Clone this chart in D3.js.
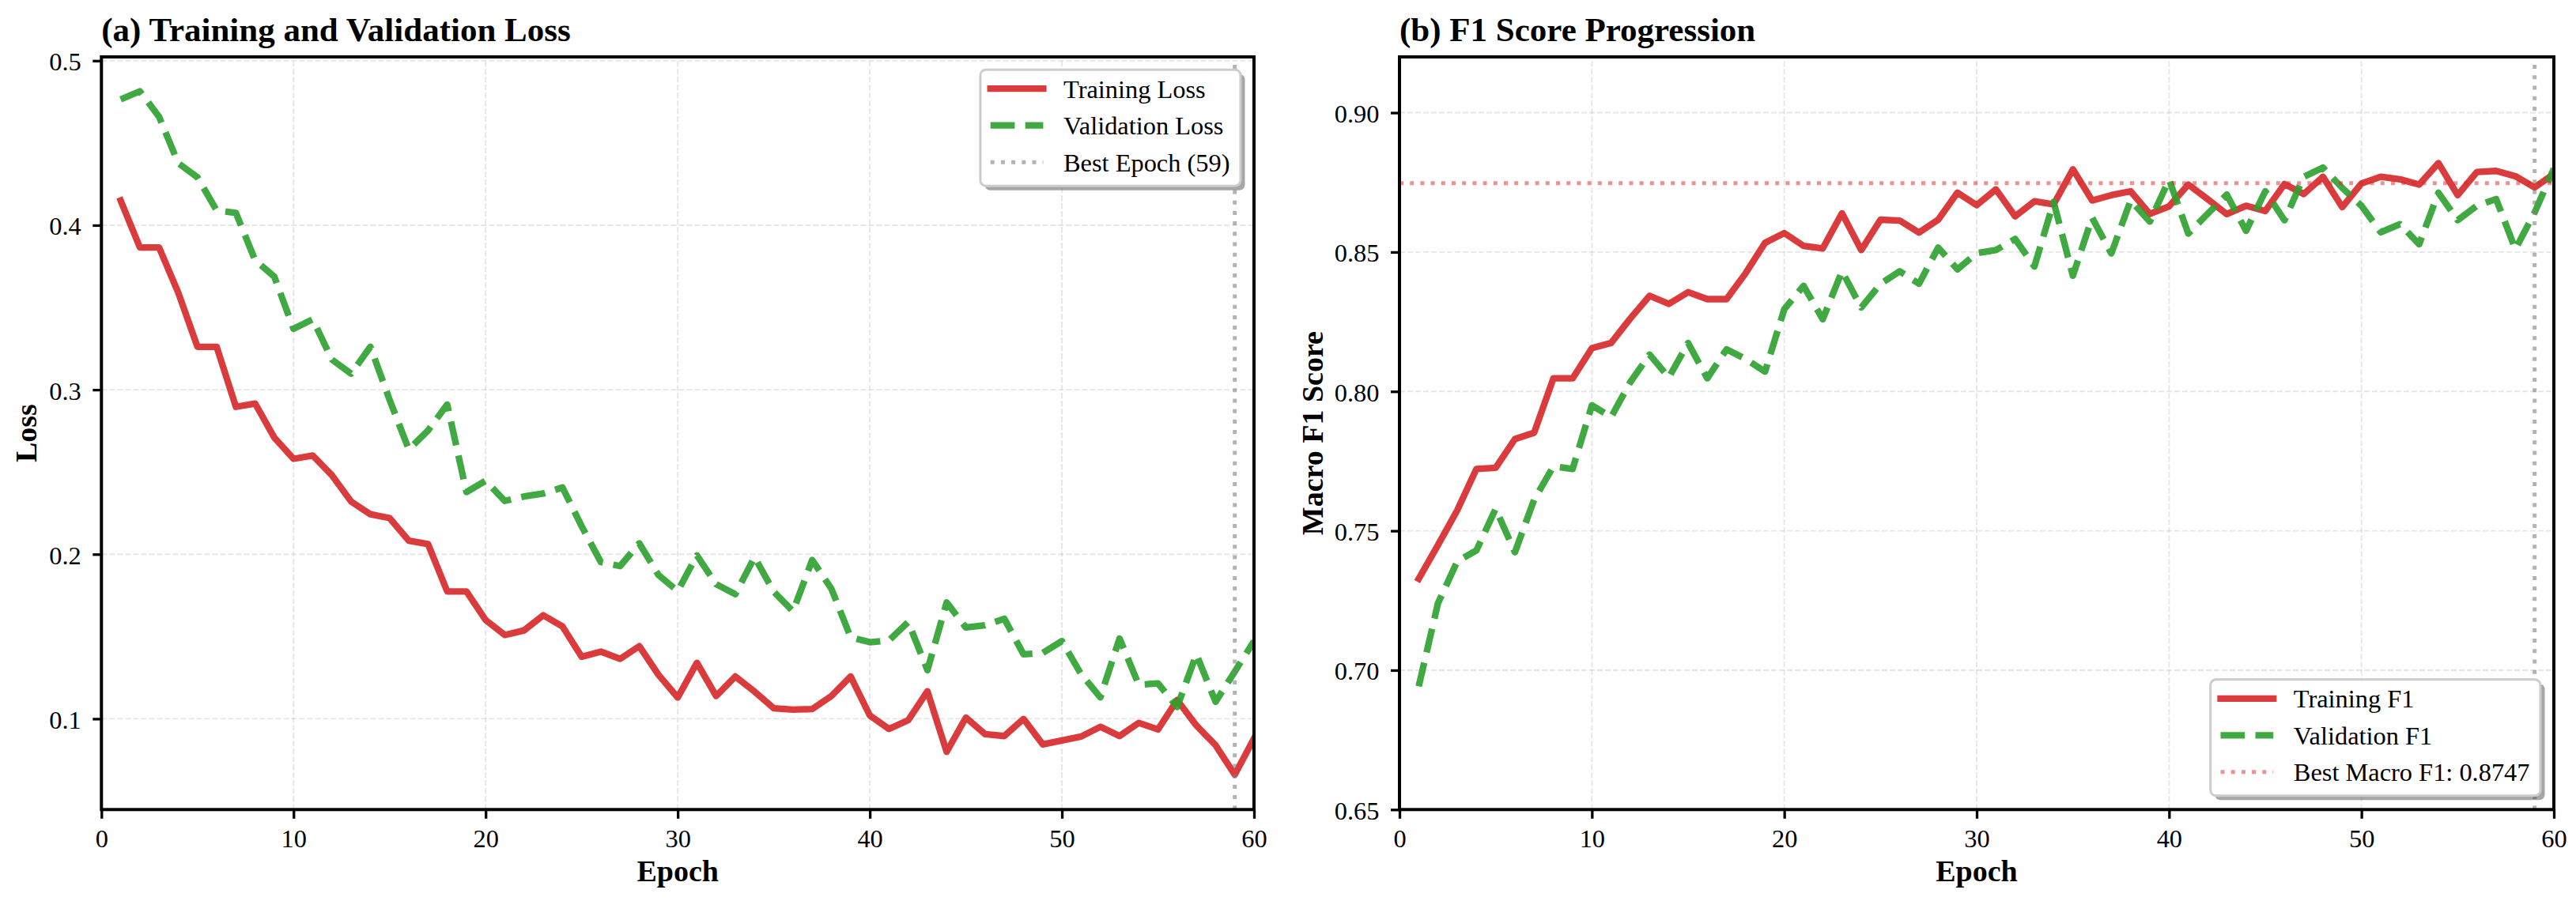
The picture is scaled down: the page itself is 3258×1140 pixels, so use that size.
<!DOCTYPE html>
<html><head><meta charset="utf-8">
<script src="https://cdn.jsdelivr.net/npm/d3@7"></script>
<style>
body{margin:0;background:#fff}
svg{display:block}
text{font-family:"Liberation Serif","Times New Roman",Times,serif}
</style>
</head><body>
<svg id="c" width="3258" height="1140"></svg>
<script>
// ---------------- data ----------------
const epochs = d3.range(1, 61);
const trainLoss = [0.415, 0.3865, 0.3865, 0.359, 0.326, 0.326, 0.2896, 0.2916, 0.2709, 0.258,
  0.26, 0.248, 0.232, 0.2243, 0.222, 0.2082, 0.2062, 0.1774, 0.1774, 0.160,
  0.1509, 0.1537, 0.1629, 0.1561, 0.1377, 0.1408, 0.1364, 0.1441, 0.1267, 0.1129,
  0.134, 0.1138, 0.1257, 0.1165, 0.1064, 0.1055, 0.1059, 0.1138, 0.1257, 0.102,
  0.0938, 0.0991, 0.1167, 0.0799, 0.1007, 0.0906, 0.0895, 0.0999, 0.0844, 0.0868,
  0.0892, 0.0951, 0.0895, 0.0975, 0.0935, 0.1114, 0.0959, 0.0839, 0.066, 0.088];
const valLoss = [0.4765, 0.4814, 0.4659, 0.4377, 0.4291, 0.4089, 0.4075, 0.3787, 0.3687, 0.337,
  0.3428, 0.3183, 0.3097, 0.3261, 0.2939, 0.2637, 0.2752, 0.291, 0.2378, 0.2447,
  0.2324, 0.2351, 0.2369, 0.2406, 0.217, 0.1952, 0.1928, 0.2066, 0.1873, 0.1776,
  0.1993, 0.1818, 0.1757, 0.1983, 0.1772, 0.1653, 0.1965, 0.179, 0.1496, 0.1465,
  0.1476, 0.1588, 0.1295, 0.1707, 0.1555, 0.1568, 0.1608, 0.1392, 0.14, 0.1472,
  0.1271, 0.113, 0.1488, 0.1207, 0.1215, 0.1071, 0.1392, 0.1103, 0.1287, 0.1472];
const trainF1 = [0.7328, 0.7449, 0.7573, 0.7722, 0.7726, 0.7829, 0.7852, 0.8047, 0.8047, 0.8155,
  0.8174, 0.8262, 0.8343, 0.8314, 0.8356, 0.8331, 0.8331, 0.8425, 0.8533, 0.8568,
  0.8522, 0.8513, 0.8639, 0.8507, 0.8616, 0.8613, 0.857, 0.8616, 0.8713, 0.8668,
  0.8725, 0.8628, 0.8682, 0.8671, 0.8797, 0.8685, 0.8704, 0.8718, 0.8637, 0.8664,
  0.8742, 0.869, 0.8636, 0.8666, 0.8647, 0.8744, 0.8708, 0.877, 0.8661, 0.8746,
  0.877, 0.8761, 0.8742, 0.8819, 0.8704, 0.8787, 0.8791, 0.8772, 0.8732, 0.878];
const valF1 = [0.6942, 0.724, 0.739, 0.743, 0.7579, 0.7423, 0.7612, 0.7731, 0.7722, 0.795,
  0.7908, 0.8034, 0.8132, 0.805, 0.8174, 0.8047, 0.8151, 0.8116, 0.8071, 0.8295,
  0.8379, 0.8259, 0.8431, 0.8301, 0.8386, 0.8431, 0.8386, 0.8516, 0.8438, 0.8496,
  0.8507, 0.8547, 0.8448, 0.868, 0.8415, 0.8623, 0.8495, 0.8685, 0.8609, 0.876,
  0.8566, 0.8637, 0.8706, 0.8576, 0.8718, 0.8614, 0.877, 0.8803, 0.873, 0.8666,
  0.8571, 0.86, 0.8528, 0.8713, 0.8614, 0.8666, 0.869, 0.851, 0.8642, 0.8799];
const xTicks = [0, 10, 20, 30, 40, 50, 60];
const lossTicks = [0.1, 0.2, 0.3, 0.4, 0.5];
const f1Ticks = [0.65, 0.70, 0.75, 0.80, 0.85, 0.90];
const bestEpoch = 59;
const bestF1 = 0.8747;
const titles = ["(a) Training and Validation Loss", "(b) F1 Score Progression"];
const yLabels = ["Loss", "Macro F1 Score"];
const xLabel = "Epoch";

// ---------------- styles ----------------
const W = 3258, H = 1140;
const RED = "#d62728", GREEN = "#2ca02c", GRAY = "#808080";
const LW = 8.3;
const STY = {
  solid: {stroke: RED, op: 0.9, w: LW, dash: null, cap: "square"},
  dashed: {stroke: GREEN, op: 0.9, w: LW, dash: "30.7,13.3", cap: "butt"},
  grayDot: {stroke: GRAY, op: 0.6, w: 5, dash: "5,8.2", cap: "butt"},
  redDot: {stroke: RED, op: 0.5, w: 5, dash: "5,8.2", cap: "butt"}
};
function applyStyle(sel, s) {
  sel.attr("fill", "none").attr("stroke", s.stroke).attr("stroke-opacity", s.op)
     .attr("stroke-width", s.w).attr("stroke-linecap", s.cap).attr("stroke-linejoin", "round");
  if (s.dash) sel.attr("stroke-dasharray", s.dash);
  return sel;
}

const svg = d3.select("#c");
svg.append("rect").attr("width", W).attr("height", H).attr("fill", "#fff");

const panels = [
  {x0: 128.3, x1: 1586, y0: 72, y1: 1024.3, ydom: [0.0448, 0.5023], yticks: lossTicks,
   yfmt: d3.format(".1f"), ylabel: yLabels[0], ylabelX: 46, title: titles[0],
   series: [{v: trainLoss, s: "solid", label: "Training Loss"}, {v: valLoss, s: "dashed", label: "Validation Loss"}],
   hline: null, legendLoc: "upper",
   legend: [{s: "solid", label: "Training Loss"}, {s: "dashed", label: "Validation Loss"}, {s: "grayDot", label: `Best Epoch (${bestEpoch})`}]},
  {x0: 1770, x1: 3230, y0: 72, y1: 1024.3, ydom: [0.65, 0.92], yticks: f1Ticks,
   yfmt: d3.format(".2f"), ylabel: yLabels[1], ylabelX: 1673, title: titles[1],
   series: [{v: trainF1, s: "solid", label: "Training F1"}, {v: valF1, s: "dashed", label: "Validation F1"}],
   hline: bestF1, legendLoc: "lower",
   legend: [{s: "solid", label: "Training F1"}, {s: "dashed", label: "Validation F1"}, {s: "redDot", label: `Best Macro F1: ${bestF1.toFixed(4)}`}]}
];

panels.forEach((p, i) => {
  const x = d3.scaleLinear().domain([0, 60]).range([p.x0, p.x1]);
  const y = d3.scaleLinear().domain(p.ydom).range([p.y1, p.y0]);
  const g = svg.append("g");

  // clip
  const cid = "clip" + i;
  svg.append("clipPath").attr("id", cid).append("rect")
    .attr("x", p.x0).attr("y", p.y0).attr("width", p.x1 - p.x0).attr("height", p.y1 - p.y0);

  // grid
  const grid = g.append("g").attr("stroke", "#b0b0b0").attr("stroke-opacity", 0.32)
    .attr("stroke-width", 1.9).attr("stroke-dasharray", "7,3");
  grid.selectAll(".gx").data(xTicks).join("line")
    .attr("x1", d => x(d)).attr("x2", d => x(d)).attr("y1", p.y1).attr("y2", p.y0);
  grid.selectAll(".gy").data(p.yticks).join("line")
    .attr("y1", d => y(d)).attr("y2", d => y(d)).attr("x1", p.x0).attr("x2", p.x1);

  // data lines
  const lg = g.append("g").attr("clip-path", `url(#${cid})`);
  const line = d3.line().x((d, k) => x(epochs[k])).y(d => y(d));
  p.series.forEach(se => {
    applyStyle(lg.append("path").attr("d", line(se.v)), STY[se.s]);
  });
  // best epoch vertical
  applyStyle(lg.append("path").attr("d", `M${x(bestEpoch)},${p.y1}V${p.y0}`), STY.grayDot);
  if (p.hline !== null) {
    applyStyle(lg.append("path").attr("d", `M${p.x0},${y(p.hline)}H${p.x1}`), STY.redDot);
  }

  // axes
  const ax = g.append("g").attr("transform", `translate(0,${p.y1})`)
    .call(d3.axisBottom(x).tickValues(xTicks).tickFormat(d3.format("d")).tickSize(11.5));
  ax.select(".domain").remove();
  ax.selectAll(".tick line").attr("stroke", "#000").attr("stroke-width", 3.3);
  ax.selectAll(".tick text").attr("y", 47.7).attr("dy", "0").attr("font-size", 32.4)
    .attr("fill", "#000").attr("font-family", '"Liberation Serif","Times New Roman",serif');

  const ay = g.append("g").attr("transform", `translate(${p.x0},0)`)
    .call(d3.axisLeft(y).tickValues(p.yticks).tickFormat(p.yfmt).tickSize(11));
  ay.select(".domain").remove();
  ay.selectAll(".tick line").attr("stroke", "#000").attr("stroke-width", 3.3);
  ay.selectAll(".tick text").attr("x", -25.6).attr("dy", "0.37em").attr("font-size", 32.4)
    .attr("fill", "#000").attr("font-family", '"Liberation Serif","Times New Roman",serif');

  // spines
  g.append("rect").attr("x", p.x0).attr("y", p.y0).attr("width", p.x1 - p.x0).attr("height", p.y1 - p.y0)
    .attr("fill", "none").attr("stroke", "#000").attr("stroke-width", 4);

  // labels
  g.append("text").attr("x", (p.x0 + p.x1) / 2).attr("y", 1115).attr("text-anchor", "middle")
    .attr("font-size", 38).attr("font-weight", "bold").text(xLabel);
  g.append("text").attr("transform", `translate(${p.ylabelX},${(p.y0 + p.y1) / 2}) rotate(-90)`)
    .attr("text-anchor", "middle").attr("font-size", 38).attr("font-weight", "bold").text(p.ylabel);
  g.append("text").attr("x", p.x0).attr("y", 52).attr("font-size", 43).attr("font-weight", "bold").text(p.title);

  // legend
  const L = g.append("g");
  const fs = 32.4;
  const tmp = p.legend.map(it => L.append("text").attr("font-size", fs).text(it.label));
  const maxW = d3.max(tmp, t => t.node().getComputedTextLength());
  tmp.forEach(t => t.remove());
  const bw = 106.6 + maxW + 15, bh = 150;
  const bx = p.x1 - 15.5 - bw;
  const by = p.legendLoc === "upper" ? p.y0 + 14.7 : p.y1 - 16 - bh;
  L.append("rect").attr("x", bx + 1.5 + 5.5).attr("y", by + 1.5 + 5.5).attr("width", bw - 3).attr("height", bh - 3)
    .attr("rx", 7).attr("fill", "#4d4d4d").attr("fill-opacity", 0.5);
  L.append("rect").attr("x", bx + 1.5).attr("y", by + 1.5).attr("width", bw - 3).attr("height", bh - 3)
    .attr("rx", 7).attr("fill", "#fff").attr("stroke", "#cccccc").attr("stroke-width", 3);
  const rows = [25.5, 72, 118.5];
  p.legend.forEach((it, k) => {
    const ry = by + rows[k];
    applyStyle(L.append("path").attr("d", `M${bx + 14.3},${ry}H${bx + 81}`), STY[it.s]);
    L.append("text").attr("x", bx + 106.6).attr("y", ry + 11.5).attr("font-size", fs).attr("fill", "#000").text(it.label);
  });
});
</script>
</body></html>
